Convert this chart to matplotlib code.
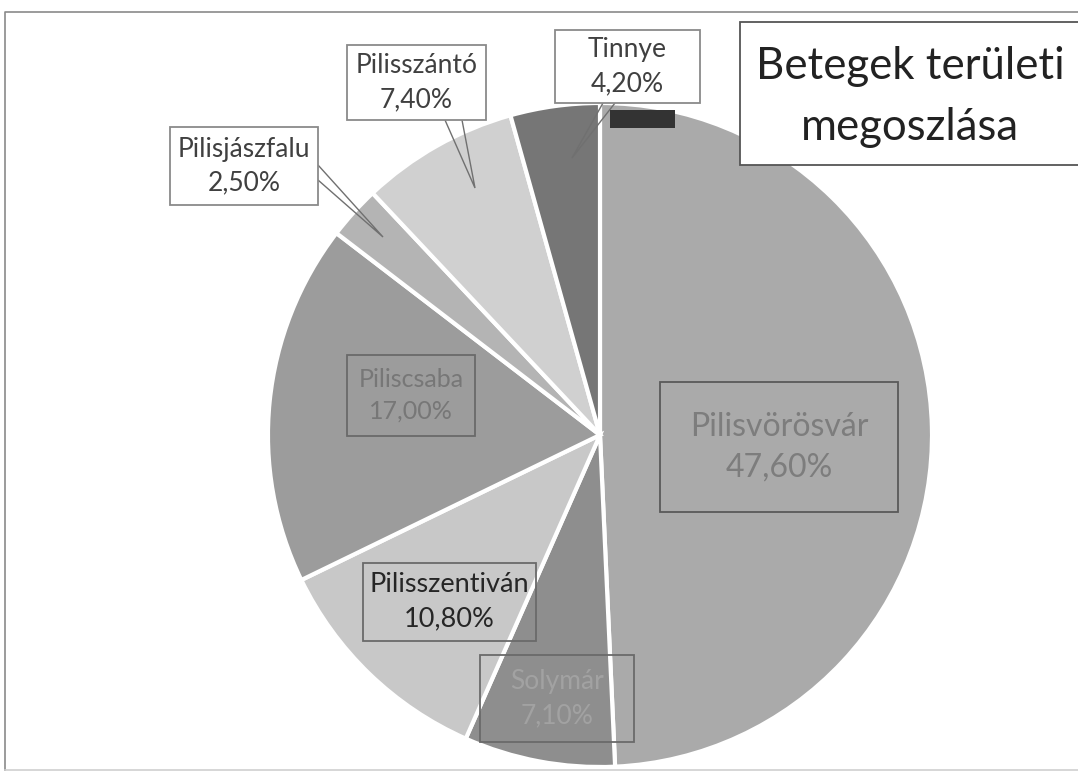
import matplotlib
matplotlib.use("Agg")
import matplotlib.pyplot as plt
from matplotlib.patches import Rectangle, Polygon

# ---- data ----
names = ["Pilisvörösvár", "Solymár", "Pilisszentiván", "Piliscsaba",
         "Pilisjászfalu", "Pilisszántó", "Tinnye"]
values = [47.6, 7.1, 10.8, 17.0, 2.5, 7.4, 4.2]
colors = ["#aaaaaa", "#8e8e8e", "#c8c8c8", "#9c9c9c", "#b4b4b4", "#d0d0d0", "#767676"]
explode = [0, 0, 0, 0.03, 0, 0, 0.005]
title = "Betegek területi\nmegoszlása"

W, H = 1078, 773
fig = plt.figure(figsize=(W / 100, H / 100), dpi=100)
ax = fig.add_axes([0, 0, 1, 1])

def Y(y):  # pixel y (top-down) -> data y
    return H - y

FONT = "Lato"

# pie
ax.pie(values, colors=colors, startangle=90, counterclock=False,
       center=(600, Y(435)), radius=332, explode=explode,
       wedgeprops=dict(edgecolor="white", linewidth=3), frame=True)
ax.set_xlim(0, W)
ax.set_ylim(0, H)
ax.set_aspect("equal")
ax.axis("off")

# frame
ax.plot([5, 5, W + 5], [Y(770), Y(12), Y(12)], color="#8a8a8a", lw=1.2)
ax.plot([5, W + 5], [Y(770), Y(770)], color="#cfcfcf", lw=1.2)

def lab(i):
    return f"{names[i]}\n{values[i]:.2f}%".replace(".", ",")

# (index, box x0, y0, x1, y1, text colour, edge colour, fontsize)
boxes = [
    (0, 660, 382, 898, 512, "#7d7d7d", "#5a5a5a", 23),
    (1, 480, 655, 634, 742, "#a2a2a2", "#6a6a6a", 19),
    (2, 363, 563, 536, 641, "#262626", "#6a6a6a", 19.5),
    (3, 347, 355, 475, 436, "#777777", "#6a6a6a", 18),
    (4, 170, 127, 318, 205, "#404040", "#8a8a8a", 19),
    (5, 347, 45, 486, 120, "#404040", "#8a8a8a", 19),
    (6, 555, 30, 700, 103, "#404040", "#8a8a8a", 19),
]
for i, x0, y0, x1, y1, tc, ec, fs in boxes:
    face = "white" if i in (4, 5, 6) else "none"
    ax.add_patch(Rectangle((x0, Y(y1)), x1 - x0, y1 - y0, facecolor=face,
                           edgecolor=ec, lw=1.3, zorder=5))
    ax.text((x0 + x1) / 2, Y((y0 + y1) / 2), lab(i), ha="center", va="center",
            fontsize=fs, color=tc, family=FONT, linespacing=1.45, zorder=6)

# leader callouts
leaders = [
    [(445, 120), (475, 188), (462, 120)],
    [(318, 165), (383, 237), (318, 180)],
    [(603, 103), (572, 158), (615, 103)],
]
for pts in leaders:
    ax.add_patch(Polygon([(x, Y(y)) for x, y in pts], closed=False, fill=False,
                         edgecolor="#707070", lw=1.0, zorder=4))

# dark scan artifact
ax.add_patch(Rectangle((610, Y(128)), 65, 18, facecolor="#333333", edgecolor="none", zorder=4))

# title box
ax.add_patch(Rectangle((740, Y(165)), W - 740 + 10, 165 - 22, facecolor="white",
                       edgecolor="#555555", lw=1.3, zorder=7))
ax.text(910, Y(97), title, ha="center", va="center", fontsize=31.5, color="#222222",
        family=FONT, linespacing=1.6, zorder=8)

fig.savefig("out.png", dpi=100)
